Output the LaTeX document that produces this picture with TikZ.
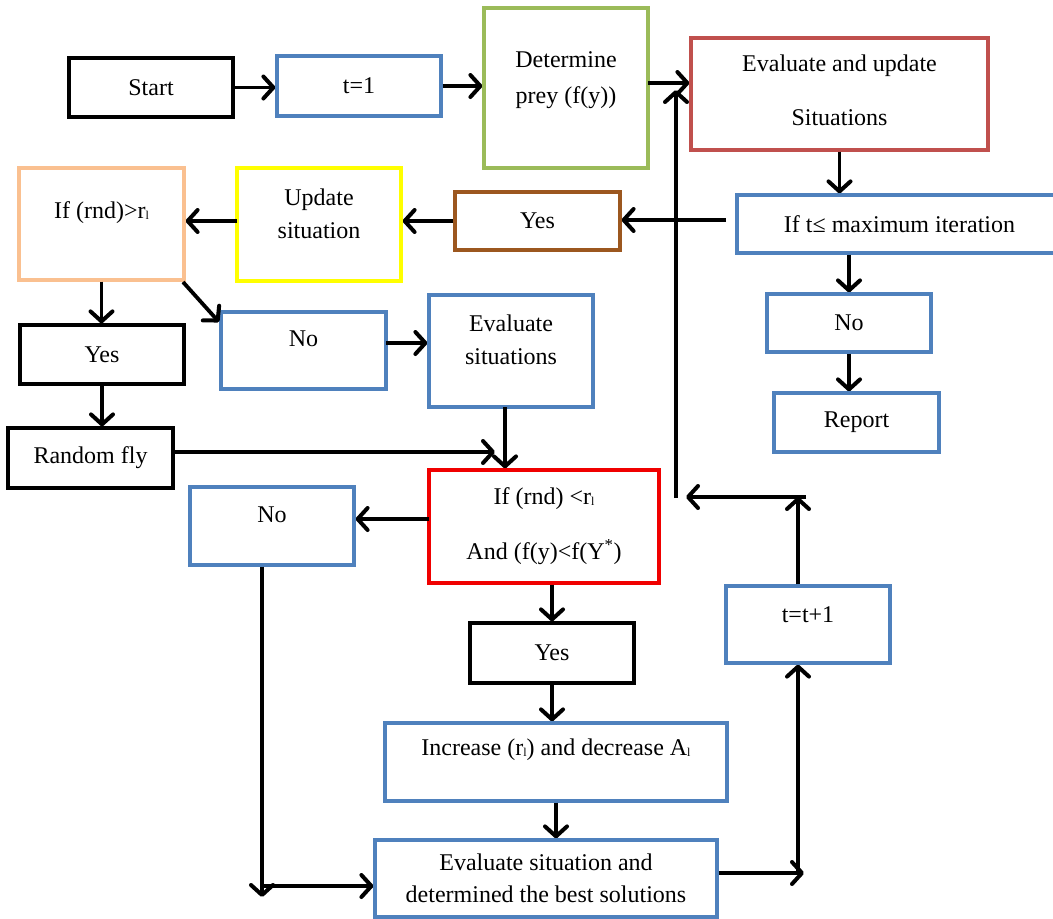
\documentclass[tikz,border=0pt]{standalone}
\usepackage{fontspec}
\setmainfont{Liberation Serif}
\usetikzlibrary{arrows.meta}
\definecolor{cblue}{HTML}{4F81BD}
\definecolor{cgreen}{HTML}{9BBB59}
\definecolor{cdred}{HTML}{C0504D}
\definecolor{cbrown}{RGB}{156,87,31}
\definecolor{cyel}{HTML}{FFFF00}
\definecolor{cpeach}{HTML}{FAC090}
\definecolor{cred}{HTML}{F00000}
\newcommand{\subl}{\raisebox{-1pt}{\fontsize{12}{12}\selectfont l}}
\newcommand{\dpth}[1]{\rule[-#1]{0pt}{#1}}
\begin{document}
\begin{tikzpicture}[x=1pt,y=-1pt,
  box/.style={draw=#1, line width=3.2pt, inner sep=0pt, align=center,
    font=\fontsize{24}{33}\selectfont},
  box/.default=black,
  arr/.style={line width=3.8pt, -{Straight Barb[length=10pt,width=22pt,round,line width=4pt]}},
  plain/.style={line width=3.8pt}]
\useasboundingbox[fill=white] (0,0) rectangle (1053,919);

\node[box, minimum width=164pt, minimum height=59pt] (start) at (151,87.5) {Start};
\node[box=cblue, minimum width=164pt, minimum height=60pt] (t1) at (359,86) {t=1};
\node[box=cgreen, minimum width=164pt, minimum height=160pt, font=\fontsize{24}{36}\selectfont] (det) at (566,88) {Determine\\prey (f(y))\dpth{21pt}};
\node[box=cdred, minimum width=297pt, minimum height=112pt] (evu) at (839.5,94) {Evaluate and update\\[21pt]Situations\dpth{8pt}};
\node[box=cblue, minimum width=325pt, minimum height=58pt] (ift) at (899.5,224) {If t≤ maximum iteration};
\node[box=cbrown, minimum width=165pt, minimum height=58pt] (yesb) at (537.5,221) {Yes};
\node[box=cyel, minimum width=164pt, minimum height=113pt] (upd) at (319,224.5) {Update\\situation\dpth{22pt}};
\node[box=cpeach, minimum width=165pt, minimum height=112pt] (ifg) at (101.5,224) {If (rnd)>r\subl\dpth{27pt}};
\node[box, minimum width=164pt, minimum height=59pt] (yes1) at (102,354.5) {Yes};
\node[box, minimum width=165pt, minimum height=60pt] (rand) at (90.5,458) {Random fly};
\node[box=cblue, minimum width=165pt, minimum height=77pt] (no1) at (303.5,350.5) {No\dpth{24pt}};
\node[box=cblue, minimum width=164pt, minimum height=112pt] (evs) at (511,351) {Evaluate\\situations\dpth{22pt}};
\node[box=cred, minimum width=230pt, minimum height=113pt] (ifl) at (544,526.5) {If (rnd) <r\subl\\[22pt]And (f(y)<f(Y\textsuperscript{*})};
\node[box=cblue, minimum width=164pt, minimum height=78pt] (no2) at (272,526) {No\dpth{22pt}};
\node[box, minimum width=164pt, minimum height=60pt] (yes3) at (552,653) {Yes};
\node[box=cblue, minimum width=342pt, minimum height=78pt] (inc) at (556,762) {Increase (r\subl) and decrease A\subl\dpth{29pt}};
\node[box=cblue, minimum width=342pt, minimum height=77pt, font=\fontsize{24}{32}\selectfont] (evb) at (546,878.5) {Evaluate situation and\\determined the best solutions};
\node[box=cblue, minimum width=164pt, minimum height=77pt] (tt) at (808,624.5) {t=t+1\dpth{20pt}};
\node[box=cblue, minimum width=164pt, minimum height=58pt] (no3) at (849,323) {No};
\node[box=cblue, minimum width=165pt, minimum height=59pt] (rep) at (856.5,422.5) {Report};

% named free ends
\coordinate (dA) at (648,83);
\coordinate (lpB) at (676,498);
\coordinate (lpT) at (676,90);
\coordinate (trB) at (798,873);
\coordinate (trT) at (798,497);
\coordinate (trR) at (806,497);
\coordinate (lpR) at (686,497);
\coordinate (bR) at (804,873);
\coordinate (iL) at (726,220);
\coordinate (uL) at (237,221);
\coordinate (nd) at (219,322);
\coordinate (gC) at (183,282);
\coordinate (na) at (386,343);
\coordinate (ev1) at (505,407);
\coordinate (rf) at (173,452);
\coordinate (rfe) at (495,452);
\coordinate (il) at (429,519);
\coordinate (nb) at (262,897);
\coordinate (nh) at (262,886);

\draw[arr] (start.east) -- (start.east -| t1.west);
\draw[arr] (t1.east) -- (t1.east -| det.west);
\draw[arr] (dA) -- (dA -| evu.west);
\draw[arr] (lpB) -- (lpT);
\draw[arr] (trR) -- (lpR);
\draw[arr] (trT |- tt.north) -- (trT);
\draw[arr] (evb.east |- bR) -- (bR);
\draw[arr] (trB) -- (trB |- tt.south);
\draw[arr] (evu.south) -- (evu.south |- ift.north);
\draw[arr] (iL) -- (iL -| yesb.east);
\draw[arr] (yesb.west) -- (yesb.west -| upd.east);
\draw[arr] (uL) -- (uL -| ifg.east);
\draw[arr] (ifg.south) -- (ifg.south |- yes1.north);
\draw[arr] (yes1.south) -- (yes1.south |- rand.north);
\draw[arr] (gC) -- (nd);
\draw[arr] (na) -- (na -| evs.west);
\draw[arr] (ev1) -- (ev1 |- ifl.north);
\draw[arr] (rf) -- (rfe);
\draw[arr] (il) -- (il -| no2.east);
\draw[arr] (no2.south -| nb) -- (nb);
\draw[arr] (nh) -- (nh -| evb.west);
\draw[arr] (yes3.north |- ifl.south) -- (yes3.north);
\draw[arr] (yes3.south) -- (yes3.south |- inc.north);
\draw[arr] (inc.south) -- (inc.south |- evb.north);
\draw[arr] (no3.north |- ift.south) -- (no3.north);
\draw[arr] (no3.south) -- (no3.south |- rep.north);
\end{tikzpicture}
\end{document}
